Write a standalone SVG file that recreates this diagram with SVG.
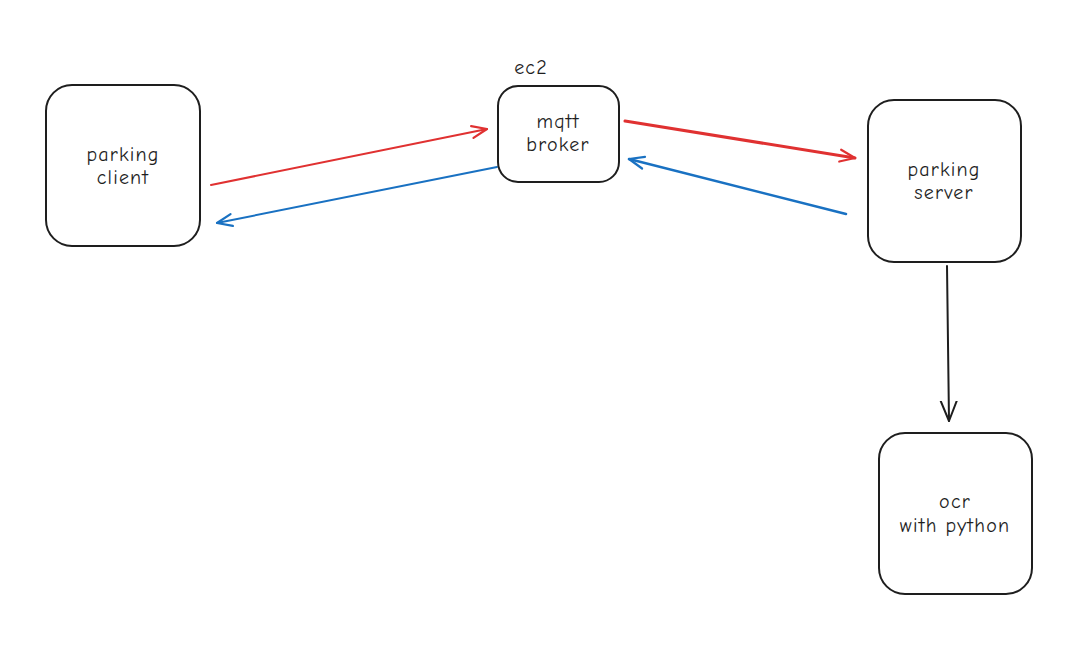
<svg xmlns="http://www.w3.org/2000/svg" width="1071" height="650" viewBox="0 0 1071 650">
<style>
.box{fill:#ffffff;stroke:#1e1e1e;stroke-width:2}
.lbl{font-family:"Comic Neue","Liberation Sans",sans-serif;font-size:20px;letter-spacing:1.2px;fill:#1e1e1e;text-anchor:middle}
.red{stroke:#e03131;fill:none;stroke-linecap:round}
.blue{stroke:#1971c2;fill:none;stroke-linecap:round}
.blk{stroke:#1e1e1e;fill:none;stroke-linecap:round}
</style>
<defs>
<marker id="ar" markerUnits="userSpaceOnUse" viewBox="-20 -10 24 20" refX="0" refY="0" markerWidth="24" markerHeight="20" orient="auto"><path d="M-15,-6 L0,0 L-15,6" fill="none" stroke="#e03131" stroke-width="2.2" stroke-linecap="round" stroke-linejoin="round"/></marker>
<marker id="ab" markerUnits="userSpaceOnUse" viewBox="-20 -10 24 20" refX="0" refY="0" markerWidth="24" markerHeight="20" orient="auto"><path d="M-15,-6 L0,0 L-15,6" fill="none" stroke="#1971c2" stroke-width="2.2" stroke-linecap="round" stroke-linejoin="round"/></marker>
<marker id="ak" markerUnits="userSpaceOnUse" viewBox="-20 -10 24 20" refX="0" refY="0" markerWidth="24" markerHeight="20" orient="auto"><path d="M-20,-8 L0,0 L-20,8" fill="none" stroke="#1e1e1e" stroke-width="2" stroke-linecap="round" stroke-linejoin="round"/></marker>
</defs>
<rect width="1071" height="650" fill="#ffffff"/>
<g id="connectors">
<path class="red" stroke-width="2" d="M211,185 L487,129" marker-end="url(#ar)"/>
<path class="blue" stroke-width="2" d="M497,167 L217,223" marker-end="url(#ab)"/>
<path class="red" stroke-width="3" d="M625,121 L855,158" marker-end="url(#ar)"/>
<path class="blue" stroke-width="2.5" d="M846,214 L629,159" marker-end="url(#ab)"/>
<path class="blk" stroke-width="2" d="M947,266 L949,421" marker-end="url(#ak)"/>
</g>
<g id="parking-client">
<rect class="box" x="46" y="85" width="154" height="161" rx="26"/>
<text class="lbl" x="123" y="161">parking</text>
<text class="lbl" x="123" y="184">client</text>
</g>
<g id="mqtt-broker">
<rect class="box" x="498" y="86" width="121" height="96" rx="20"/>
<text class="lbl" x="558" y="128">mqtt</text>
<text class="lbl" x="558" y="151">broker</text>
</g>
<g id="ec2-label">
<text class="lbl" x="531" y="74">ec2</text>
</g>
<g id="parking-server">
<rect class="box" x="868" y="100" width="153" height="162" rx="26"/>
<text class="lbl" x="944" y="176">parking</text>
<text class="lbl" x="944" y="199">server</text>
</g>
<g id="ocr">
<rect class="box" x="879" y="433" width="153" height="161" rx="26"/>
<text class="lbl" x="955" y="508">ocr</text>
<text class="lbl" x="955" y="532">with python</text>
</g>
</svg>
